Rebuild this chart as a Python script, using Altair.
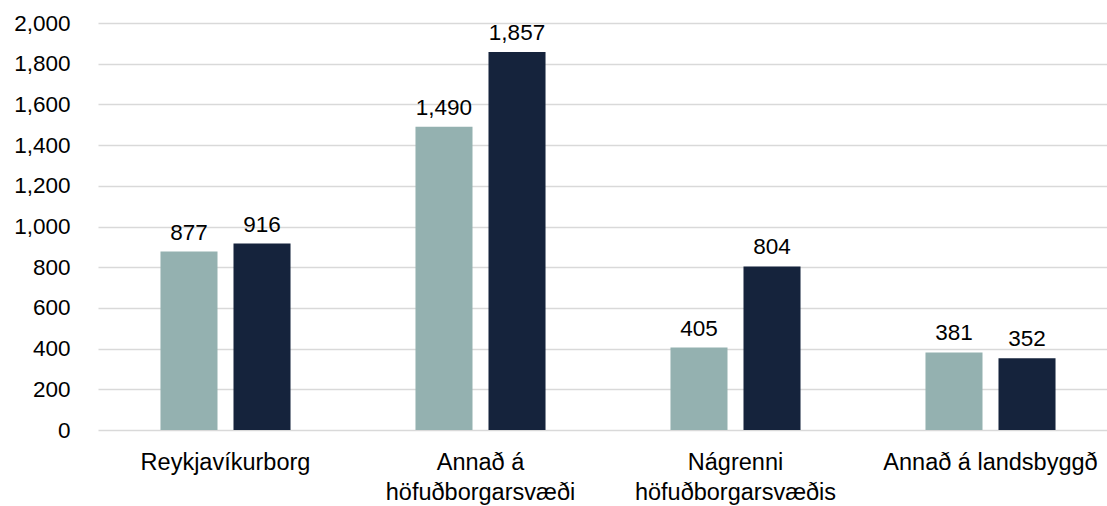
import altair as alt
import pandas as pd

# Categories (line breaks marked with "|") and the two series
categories = [
    "Reykjavíkurborg",
    "Annað á|höfuðborgarsvæði",
    "Nágrenni|höfuðborgarsvæðis",
    "Annað á landsbyggð",
]
series_names = ["Series 1", "Series 2"]
series_1 = [877, 1490, 405, 381]
series_2 = [916, 1857, 804, 352]
colors = ["#94B1B0", "#15233C"]
y_ticks = list(range(0, 2001, 200))

rows = []
for cat, a, b in zip(categories, series_1, series_2):
    rows.append({"category": cat, "series": series_names[0], "value": a})
    rows.append({"category": cat, "series": series_names[1], "value": b})
df = pd.DataFrame(rows)

FONT = "Liberation Sans"

x_enc = alt.X(
    "category:N",
    sort=categories,
    scale=alt.Scale(range=[0, 1020], paddingInner=0.49, paddingOuter=0.245),
    axis=alt.Axis(
        title=None,
        labelAngle=0,
        labelExpr="split(datum.label, '|')",
        labelFont=FONT,
        labelFontSize=23.5,
        labelColor="#000000",
        labelLineHeight=30,
        labelBaseline="top",
        labelPadding=20,
        labelLimit=400,
        ticks=False,
        domain=False,
        grid=False,
    ),
)
xoff_enc = alt.XOffset(
    "series:N",
    sort=series_names,
    scale=alt.Scale(paddingInner=0.219, paddingOuter=0),
)
y_enc = alt.Y(
    "value:Q",
    scale=alt.Scale(domain=[0, 2000], nice=False),
    axis=alt.Axis(
        title=None,
        values=y_ticks,
        format=",d",
        labelFont=FONT,
        labelFontSize=22.5,
        labelColor="#000000",
        labelPadding=28,
        ticks=False,
        domain=False,
        grid=True,
        gridColor="#D9D9D9",
        gridWidth=1.5,
    ),
)

bars = alt.Chart(df).mark_bar().encode(
    x=x_enc,
    xOffset=xoff_enc,
    y=y_enc,
    color=alt.Color(
        "series:N",
        sort=series_names,
        scale=alt.Scale(domain=series_names, range=colors),
        legend=None,
    ),
)

labels = alt.Chart(df).mark_text(
    font=FONT,
    fontSize=22.5,
    color="#000000",
    baseline="alphabetic",
    dy=-12,
).encode(
    x=x_enc,
    xOffset=xoff_enc,
    y=y_enc,
    text=alt.Text("value:Q", format=",d"),
)

chart = (
    alt.layer(bars, labels)
    .properties(
        width=1009,
        height=407,
        autosize=alt.AutoSizeParams(type="none"),
        padding={"left": 98, "top": 23, "right": 0, "bottom": 76},
        background="#FFFFFF",
    )
    .configure_view(stroke=None)
)

chart.save("out.html", embed_options={"renderer": "svg", "actions": False})
